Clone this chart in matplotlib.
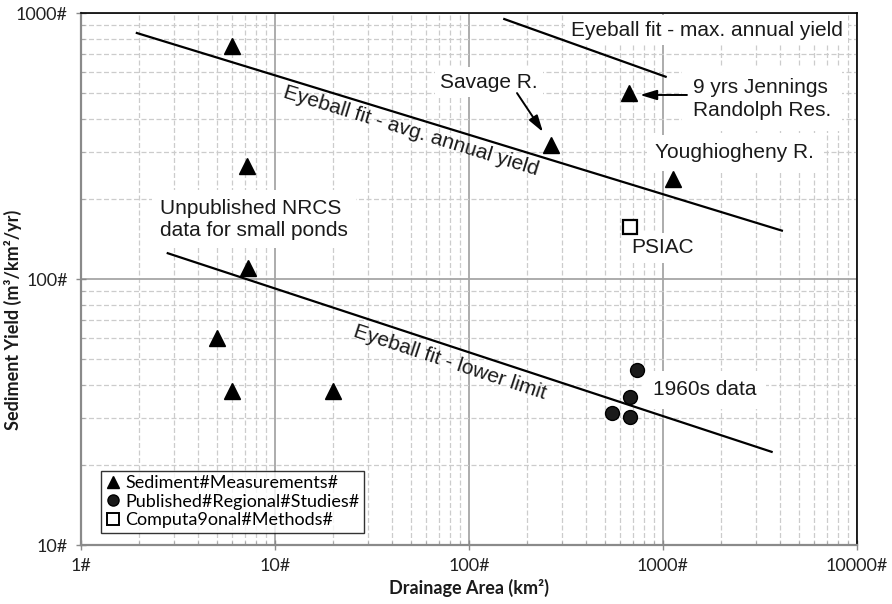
import numpy as np
import matplotlib
matplotlib.use("Agg")
import matplotlib.pyplot as plt
from matplotlib.ticker import FixedLocator, FixedFormatter, NullFormatter
from matplotlib.lines import Line2D

# ---------------- data ----------------
sed_area = [6.0, 7.2, 7.3, 5.0, 6.0, 20.0, 265, 670, 1120]
sed_yield = [750, 265, 110, 60, 38, 38, 320, 500, 238]

pub_area = [731, 676, 548, 676]
pub_yield = [45.5, 36, 31.3, 30.2]

comp_area = [676]
comp_yield = [157]

avg_fit_x = [1.94, 4100]
avg_fit_y = [841, 152]
max_fit_x = [152, 1032]
max_fit_y = [949, 576]
low_fit_x = [2.8, 3630]
low_fit_y = [125, 22.4]

x_ticks = [1, 10, 100, 1000, 10000]
x_ticklabels = ["1#", "10#", "100#", "1000#", "10000#"]
y_ticks = [10, 100, 1000]
y_ticklabels = ["10#", "100#", "1000#"]

legend_labels = ["Sediment#Measurements#", "Published#Regional#Studies#", "Computa9onal#Methods#"]

# ---------------- figure ----------------
fig = plt.figure(figsize=(8.92, 6.04), dpi=100)
ax = fig.add_axes([81/892, 1-545/604, 776/892, 532/604])
ax.set_xscale("log")
ax.set_yscale("log")
ax.set_xlim(1, 10000)
ax.set_ylim(10, 1000)

# grid
ax.xaxis.set_major_locator(FixedLocator(x_ticks))
ax.yaxis.set_major_locator(FixedLocator(y_ticks))
ax.xaxis.set_major_formatter(FixedFormatter(x_ticklabels))
ax.yaxis.set_major_formatter(FixedFormatter(y_ticklabels))
xminor = [m * 10**e for e in range(0, 4) for m in range(2, 10)]
yminor = [m * 10**e for e in range(1, 3) for m in range(2, 10)]
ax.xaxis.set_minor_locator(FixedLocator(xminor))
ax.yaxis.set_minor_locator(FixedLocator(yminor))
ax.xaxis.set_minor_formatter(NullFormatter())
ax.yaxis.set_minor_formatter(NullFormatter())
ax.grid(which="major", color="#a6a6a6", lw=1.3, ls="-", zorder=0)
ax.grid(which="minor", color="#cccccc", lw=0.9, ls=(0, (4, 2)), zorder=0)
ax.set_axisbelow(True)

for s in ["left", "bottom"]:
    ax.spines[s].set_color("#8a8a8a")
    ax.spines[s].set_linewidth(1.6)
for s in ["top", "right"]:
    ax.spines[s].set_color("black")
    ax.spines[s].set_linewidth(1.2)

ax.tick_params(which="major", direction="inout", length=7, color="#8a8a8a", width=1,
               labelsize=13, labelcolor="#222222", pad=6)
ax.tick_params(which="minor", direction="in", length=3, color="#aaaaaa", width=0.8)
for lab in ax.get_xticklabels() + ax.get_yticklabels():
    lab.set_family("Lato")

# fit lines
for fx, fy in [(avg_fit_x, avg_fit_y), (max_fit_x, max_fit_y), (low_fit_x, low_fit_y)]:
    ax.plot(fx, fy, color="black", lw=1.6, zorder=4.5)

# points
ax.plot(sed_area, sed_yield, ls="none", marker="^", ms=11, color="black", zorder=5)
ax.plot(pub_area, pub_yield, ls="none", marker="o", ms=10, mfc="#1a1a1a", mec="black", zorder=5)
ax.plot(comp_area, comp_yield, ls="none", marker="s", ms=9.5, mfc="white", mec="black", mew=1.6, zorder=5)

# annotations
tfont = dict(family="Liberation Sans", fontsize=15, color="#1a1a1a")
wbox = dict(facecolor="white", edgecolor="none", pad=4)

ax.text(1675, 863, "Eyeball fit - max. annual yield", ha="center", va="center", bbox=wbox, zorder=4, **tfont)
ax.text(126.8, 550, "Savage R.", ha="center", va="center", bbox=wbox, zorder=4, **tfont)
ax.text(1428, 475, "9 yrs Jennings\nRandolph Res.", ha="left", va="center", linespacing=1.25,
        bbox=dict(facecolor="white", edgecolor="none", pad=8), zorder=4, **tfont)
ax.text(2337, 297.7, "Youghiogheny R.", ha="center", va="center", bbox=dict(facecolor="white", edgecolor="none", pad=6), zorder=4, **tfont)
ax.text(1000, 130.8, "PSIAC", ha="center", va="center", bbox=wbox, zorder=4, **tfont)
ax.text(2.555, 168, "Unpublished NRCS\ndata for small ponds", ha="left", va="center", linespacing=1.2,
        bbox=dict(facecolor="white", edgecolor="none", pad=6), zorder=4, **tfont)
ax.text(1641, 38.3, "1960s data", ha="center", va="center", bbox=dict(facecolor="white", edgecolor="none", pad=7), zorder=4, **tfont)
ax.text(50.2, 358.5, "Eyeball fit - avg. annual yield", ha="center", va="center", rotation=-17.1,
        rotation_mode="anchor", zorder=4, **tfont)
ax.text(79.8, 48.7, "Eyeball fit - lower limit", ha="center", va="center", rotation=-18.2,
        rotation_mode="anchor", zorder=4, **tfont)

arrow = dict(arrowstyle="-|>,head_length=1.0,head_width=0.3", color="black", lw=1.4, shrinkA=0, shrinkB=0)
ax.annotate("", xy=(240.6, 356.9), xytext=(176.8, 500), arrowprops=arrow, zorder=6)
ax.annotate("", xy=(761, 491.8), xytext=(1329, 491.8), arrowprops=arrow, zorder=6)

# axis labels
lfont = dict(family="Lato", fontsize=13, fontweight="bold", color="#1a1a1a")
ax.set_xlabel("Drainage Area (km²)", **lfont)
ax.set_ylabel("Sediment Yield (m³/km²/yr)", **lfont)
ax.xaxis.set_label_coords(0.5, -34/532)
ax.yaxis.set_label_coords(-59/776, 225/532)

# legend
handles = [
    Line2D([], [], ls="none", marker="^", ms=9, color="black"),
    Line2D([], [], ls="none", marker="o", ms=8, mfc="#1a1a1a", mec="black"),
    Line2D([], [], ls="none", marker="s", ms=8, mfc="white", mec="black", mew=1.4),
]
leg = ax.legend(handles, legend_labels, loc="lower left", bbox_to_anchor=(0.0258, 0.0226),
                borderaxespad=0, frameon=True, fancybox=False, handlelength=0.8, handletextpad=0.3,
                labelspacing=0.15, borderpad=0.25, prop=dict(family="Lato", size=13))
leg.get_frame().set_edgecolor("black")
leg.get_frame().set_linewidth(1.0)
leg.set_zorder(7)

fig.savefig("out.png", dpi=100)
